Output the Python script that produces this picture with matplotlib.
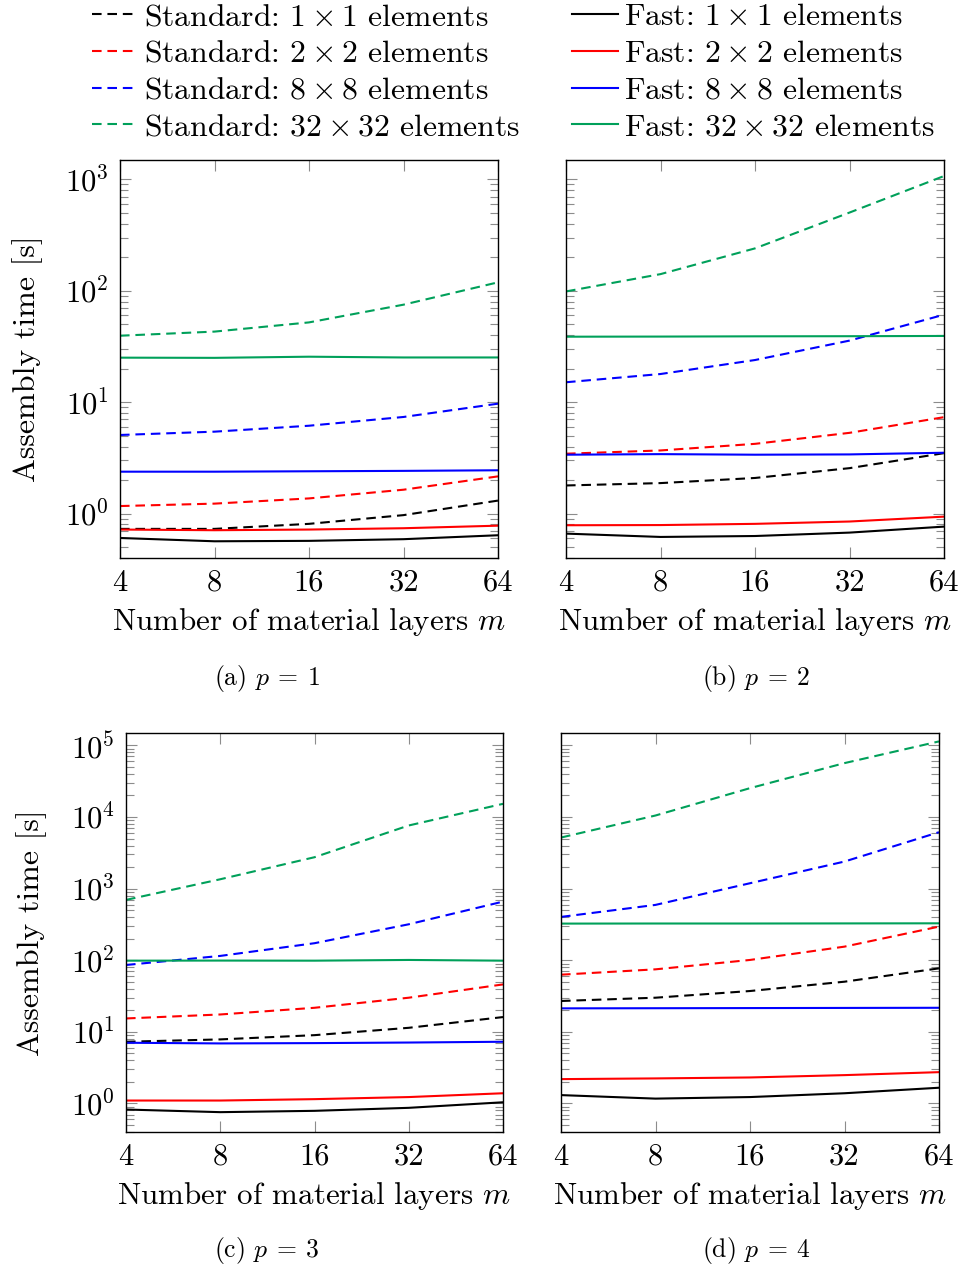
import numpy as np
import matplotlib
matplotlib.use('Agg')
import matplotlib.pyplot as plt
from matplotlib.ticker import LogLocator, NullLocator, NullFormatter
from matplotlib.lines import Line2D

plt.rcParams['font.family'] = 'serif'
plt.rcParams['font.serif'] = ['cmr10']
plt.rcParams['mathtext.fontset'] = 'cm'
plt.rcParams['axes.formatter.use_mathtext'] = True
plt.rcParams['axes.unicode_minus'] = False

layers = [4, 8, 16, 32, 64]
sizes = ['1', '2', '8', '32']
colors = ['black', '#ff0000', '#0000ff', '#00a05a']

# p = 1
std_p1 = [[0.73, 0.73, 0.81, 0.97, 1.31],
          [1.17, 1.23, 1.37, 1.64, 2.16],
          [5.08, 5.44, 6.15, 7.37, 9.7],
          [39.5, 43, 52, 75, 119]]
fast_p1 = [[0.605, 0.565, 0.57, 0.59, 0.64],
           [0.72, 0.71, 0.72, 0.74, 0.78],
           [2.38, 2.38, 2.4, 2.42, 2.45],
           [25.1, 25.0, 25.6, 25.2, 25.2]]
# p = 2
std_p2 = [[1.79, 1.88, 2.09, 2.56, 3.49],
          [3.45, 3.69, 4.23, 5.31, 7.34],
          [15.1, 17.9, 23.9, 35.7, 61],
          [98.6, 141, 240, 503, 1070]]
fast_p2 = [[0.662, 0.618, 0.63, 0.676, 0.765],
           [0.787, 0.79, 0.81, 0.85, 0.94],
           [3.38, 3.42, 3.38, 3.40, 3.52],
           [38.7, 38.8, 39.0, 39.1, 39.3]]
# p = 3
std_p3 = [[7.28, 7.85, 9.0, 11.4, 16.1],
          [15.4, 17.5, 21.7, 30, 46],
          [85.9, 115, 173, 318, 659],
          [696, 1352, 2746, 7620, 15280]]
fast_p3 = [[0.824, 0.757, 0.79, 0.87, 1.04],
           [1.10, 1.10, 1.15, 1.23, 1.39],
           [7.05, 6.9, 6.97, 7.1, 7.28],
           [98.7, 99, 98.7, 101, 98.7]]
# p = 4
std_p4 = [[27, 30, 37.2, 50.2, 77.1],
          [62.9, 74.7, 101, 155, 295],
          [403, 593, 1190, 2390, 6140],
          [5170, 10500, 25300, 56600, 113700]]
fast_p4 = [[1.31, 1.17, 1.23, 1.39, 1.66],
           [2.19, 2.24, 2.31, 2.49, 2.74],
           [21.3, 21.4, 21.5, 21.6, 21.7],
           [325, 326, 326, 327, 328]]

panels = [(std_p1, fast_p1, r'(a) $p\:=\:1$'),
          (std_p2, fast_p2, r'(b) $p\:=\:2$'),
          (std_p3, fast_p3, r'(c) $p\:=\:3$'),
          (std_p4, fast_p4, r'(d) $p\:=\:4$')]

fig = plt.figure(figsize=(9.63, 12.72), dpi=100)
W, H = 963, 1272
boxes = [(120, 160, 378, 398), (566, 160, 378, 398),
         (126, 733, 377, 399), (561, 733, 378, 399)]
ylims = [(0.40, 1490), (0.40, 1490), (0.40, 1.49e5), (0.40, 1.49e5)]
dash = (0, (4.6, 2.8))

for i, (std, fast, cap) in enumerate(panels):
    x0, y0, w, h = boxes[i]
    ax = fig.add_axes([x0 / W, 1 - (y0 + h) / H, w / W, h / H])
    for k in range(4):
        ax.plot(layers, std[k], color=colors[k], lw=1.5, linestyle=dash)
        ax.plot(layers, fast[k], color=colors[k], lw=1.5)
    ax.set_xscale('log', base=2)
    ax.set_yscale('log')
    ax.set_xlim(4, 64)
    ax.set_ylim(*ylims[i])
    ax.set_xticks(layers)
    ax.set_xticklabels([str(v) for v in layers])
    ax.xaxis.set_minor_locator(NullLocator())
    ax.yaxis.set_major_locator(LogLocator(base=10, numticks=20))
    ax.yaxis.set_minor_locator(LogLocator(base=10, subs=np.arange(2, 10), numticks=50))
    ax.yaxis.set_minor_formatter(NullFormatter())
    ax.tick_params(which='both', direction='in', top=True, right=True,
                   color='0.55', width=0.8, labelsize=22)
    ax.tick_params(which='major', length=8)
    ax.tick_params(which='minor', length=5.5)
    ax.tick_params(axis='x', pad=8)
    ax.tick_params(axis='y', pad=8)
    if i % 2 == 1:
        ax.tick_params(axis='y', labelleft=False)
    for s in ax.spines.values():
        s.set_linewidth(1.0)
    ax.set_xlabel('Number of material layers $m$', fontsize=22.3, labelpad=7)
    cx = (267 if i % 2 == 0 else 756) / W
    cy = 679 if i < 2 else 1251
    fig.text(cx, 1 - cy / H, cap, ha='center', va='center', fontsize=18.5)
    if i % 2 == 0:
        fig.text((28 if i == 0 else 32) / W, 1 - (y0 + h / 2) / H, 'Assembly time [s]',
                 rotation=90, ha='center', va='center', fontsize=23)

handles = []
labels = []
for k in range(4):
    handles.append(Line2D([], [], color=colors[k], lw=1.5, linestyle=dash))
    labels.append('Standard: $%s \\times %s$ elements' % (sizes[k], sizes[k]))
for k in range(4):
    handles.append(Line2D([], [], color=colors[k], lw=1.5))
    labels.append('Fast: $%s \\times %s$ elements' % (sizes[k], sizes[k]))

fig.legend(handles, labels, ncol=2, loc='upper left', bbox_to_anchor=(92 / W, 1 - 3 / H),
           frameon=False, fontsize=22.8, handlelength=1.45, handletextpad=0.2,
           columnspacing=1.62, labelspacing=0.27, borderpad=0, borderaxespad=0)

fig.savefig('out.png', dpi=100)
